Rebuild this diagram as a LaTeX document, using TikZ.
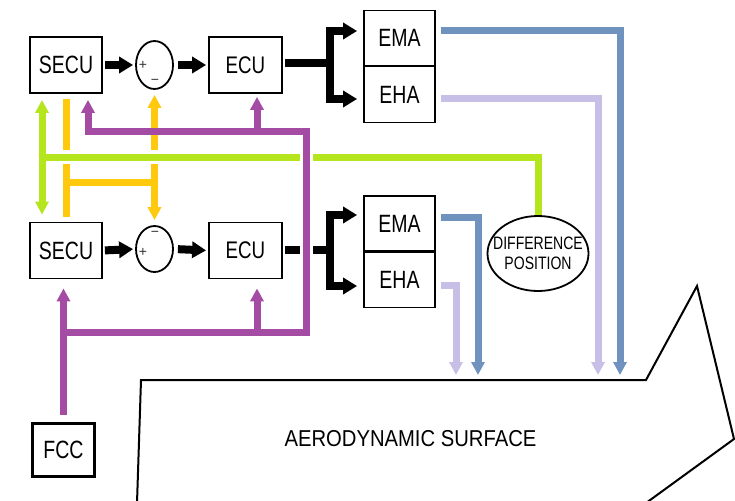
\documentclass[tikz,border=0pt]{standalone}
\usepackage{fontspec}
\setmainfont{Liberation Sans}
\newfontfamily\nar[FakeStretch=0.78]{Liberation Sans}
\newfontfamily\narw[FakeStretch=0.88]{Liberation Sans}
\usetikzlibrary{arrows.meta,shapes.geometric}
\definecolor{purp}{RGB}{164,75,164}
\definecolor{grnc}{RGB}{181,230,29}
\definecolor{orgc}{RGB}{255,201,14}
\definecolor{bluc}{RGB}{112,146,190}
\definecolor{lavc}{RGB}{200,191,231}
\begin{document}
\begin{tikzpicture}[x=1pt,y=-1pt,
  box/.style={draw,line width=1.8pt,minimum width=72pt,minimum height=56pt,inner sep=0pt,font=\nar\fontsize{25}{25}\selectfont},
  ebox/.style={box,minimum width=73pt,font=\nar\fontsize{24}{24}\selectfont},
  abox/.style={box,minimum width=71pt,minimum height=55pt},
  sumc/.style={draw,ellipse,line width=1.8pt,minimum width=37pt,minimum height=48pt,inner sep=0pt},
  sign/.style={inner sep=0pt,text=black!80,font=\fontsize{14}{14}\selectfont},
  blk/.style={line width=8pt,line join=miter},
  blkarr/.style={blk,-{Triangle[length=14pt,width=16pt]}},
  col/.style={line width=7pt,line join=miter},
  carr/.style={-{Triangle[length=13pt,width=13pt]}},
  carrs/.style={{Triangle[length=13pt,width=13pt]}-},
  carrb/.style={{Triangle[length=13pt,width=13pt]}-{Triangle[length=13pt,width=13pt]}},
  gap/.style={white,line width=14pt}]
\useasboundingbox (0,0) rectangle (735,500);

% blocks
\node[box] (SECU1) at (66,65) {SECU};
\node[sumc] (S1) at (154.5,65) {};
\node[ebox] (ECU1) at (245.5,65) {ECU};
\node[abox] (EMA1) at (399.5,38) {EMA};
\node[abox,minimum height=56pt] (EHA1) at (399.5,94.5) {EHA};
\node[box] (SECU2) at (66,250.5) {SECU};
\node[sumc,minimum height=46pt] (S2) at (154.5,249) {};
\node[ebox] (ECU2) at (245.5,250.5) {ECU};
\node[abox] (EMA2) at (399.5,223.5) {EMA};
\node[abox] (EHA2) at (399.5,280) {EHA};
\node[draw,ellipse,line width=1.8pt,minimum width=101pt,minimum height=75pt,inner sep=0pt,
  label={[align=center,font=\nar\fontsize{18}{20}\selectfont]center:DIFFERENCE\\POSITION}] (DIFF) at (538,253.5) {};
\node[box,line width=3.5pt,minimum width=62pt,minimum height=53pt] (FCC) at (63.5,450) {FCC};

% signs
\node[sign] (p1) at (143,65) {+};
\node[sign] (m1) at (155,82) {−};
\node[sign] (m2) at (155,234) {−};
\node[sign] (p2) at (143,252) {+};

% aerodynamic surface
\draw[line width=2pt,line join=miter] (137,503) -- (141,380) -- (646,380) -- (697,286) -- (734,439) -- (646,503);
\node[font=\narw\fontsize{23}{23}\selectfont] (AS) at (410.5,439) {AERODYNAMIC SURFACE};

% orange
\coordinate (o1) at (66,182);
\draw[col,orgc,shorten <=5pt,shorten >=5pt] (SECU1.south) -- (SECU2.north);
\draw[col,orgc] (o1) -- (o1 -| S1.south);
\draw[col,orgc,carrb,shorten <=5pt,shorten >=5pt] (S1.south) -- (S2.north);

% green
\coordinate (g1) at (42,157);
\draw[gap] (g1) -- (g1 -| DIFF.north);
\draw[col,grnc,carrb,shorten <=6pt,shorten >=7pt] (SECU1.south -| g1) -- (SECU2.north -| g1);
\draw[col,grnc] (g1) -| (DIFF.north);

% black signal arrows
\draw[blkarr,shorten <=2pt,shorten >=2pt] (SECU1.east) -- (S1.west);
\draw[blkarr,shorten <=4pt,shorten >=2pt] (S1.east) -- (ECU1.west);
\draw[blkarr,shorten <=2pt,shorten >=2pt] (SECU2.east) -- (S2.west);
\draw[blkarr,shorten <=4pt,shorten >=2pt] (S2.east) -- (ECU2.west);
\coordinate (j1) at (329.5,63);
\coordinate (t1) at (329.5,31);
\coordinate (t2) at (329.5,99);
\draw[blk,shorten <=2pt] (ECU1.east |- j1) -- (j1);
\draw[blkarr,shorten >=6pt] (j1) |- (t1 -| EMA1.west);
\draw[blkarr,shorten >=6pt] (j1) |- (t2 -| EHA1.west);
\coordinate (j2) at (329.5,249.5);
\coordinate (t3) at (329.5,215);
\coordinate (t4) at (329.5,286);
\draw[blk,shorten <=2pt] (ECU2.east |- j2) -- (j2);
\draw[blkarr,shorten >=6pt] (j2) |- (t3 -| EMA2.west);
\draw[blkarr,shorten >=6pt] (j2) |- (t4 -| EHA2.west);

% actuator outputs
\coordinate (b1) at (620,375);
\coordinate (l1) at (598,375);
\coordinate (b2) at (478,375);
\coordinate (l2) at (456,375);
\draw[col,bluc,carr,shorten <=5pt] ([yshift=7pt]EMA1.east) -| (b1);
\draw[col,lavc,carr,shorten <=5pt] ([yshift=-4.5pt]EHA1.east) -| (l1);
\draw[col,bluc,carr,shorten <=5pt] ([yshift=6.5pt]EMA2.east) -| (b2);
\draw[col,lavc,carr,shorten <=5pt] ([yshift=-5pt]EHA2.east) -| (l2);

% purple (FCC commands)
\coordinate (pa) at (306,131);
\coordinate (pb) at (306,332);
\coordinate (pe1) at (257,131);
\coordinate (pe2) at (257,332);
\draw[white,line width=13pt] (pa) -- (pb);
\draw[col,purp,carrs,shorten <=6pt] ([xshift=22pt]SECU1.south) |- (pa) -- (pb) -- (pb -| FCC.north);
\draw[col,purp,carr,shorten >=3pt] (pe1) -- (pe1 |- ECU1.south);
\draw[col,purp,carr,shorten >=9pt] (pe2) -- (pe2 |- ECU2.south);
\draw[col,purp,carr,shorten <=7pt,shorten >=9pt] (FCC.north) -- (FCC.north |- SECU2.south);
\end{tikzpicture}
\end{document}
